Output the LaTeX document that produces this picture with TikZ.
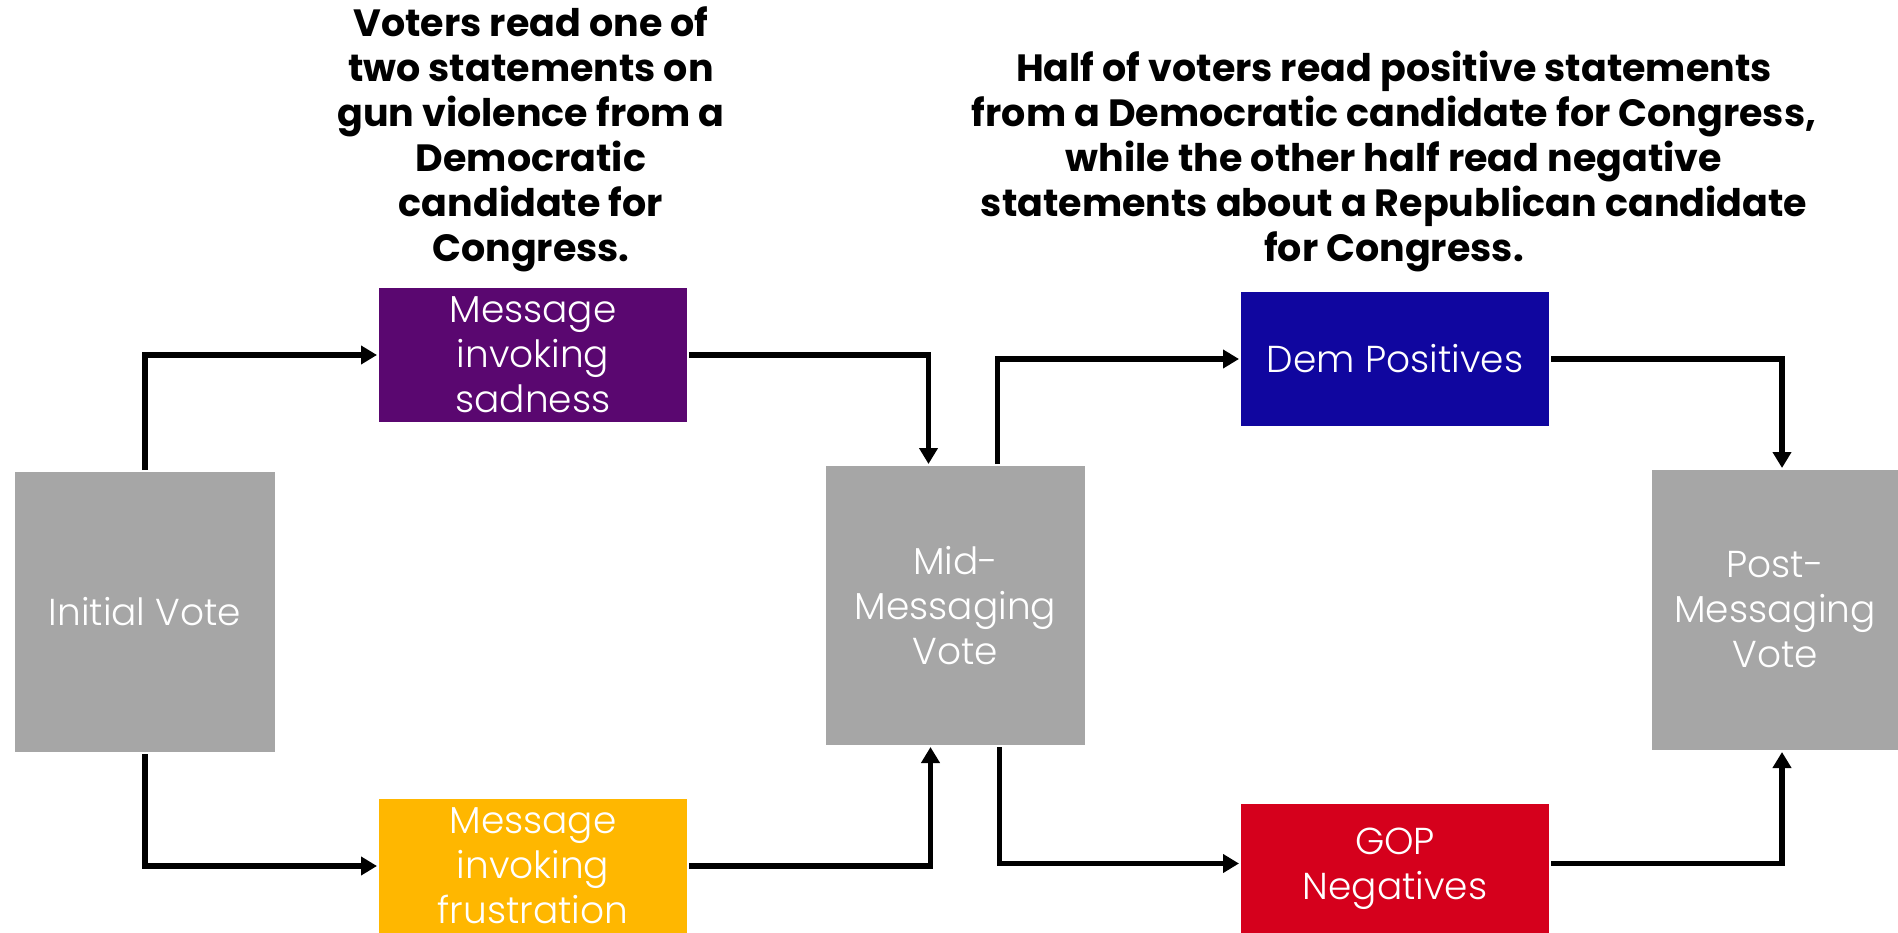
\documentclass[tikz,border=0pt]{standalone}
\usepackage{fontspec}
\setmainfont{Poppins}
\newfontfamily\lightfont{Poppins Light}
\usetikzlibrary{arrows.meta}
\definecolor{boxgray}{RGB}{166,166,166}
\definecolor{sadpurple}{RGB}{90,7,112}
\definecolor{frusyellow}{RGB}{255,183,0}
\definecolor{demblue}{RGB}{16,6,159}
\definecolor{gopred}{RGB}{213,0,28}
\begin{document}
\begin{tikzpicture}[x=1pt,y=-1pt,
  box/.style={rectangle, inner sep=0pt, outer sep=2pt, text=white, align=center,
    font=\lightfont\fontsize{37.5}{45}\selectfont},
  arr/.style={line width=5.5pt, -{Triangle[length=16pt,width=18pt]}, line join=miter},
  ttl/.style={align=center, font=\bfseries\fontsize{38}{45}\selectfont, inner sep=0pt}]
\useasboundingbox (0,0) rectangle (1898,933);
\node[box, fill=boxgray, minimum width=260pt, minimum height=280pt] (init) at (145,612) {Initial Vote};
\node[box, fill=sadpurple, minimum width=308pt, minimum height=134pt] (sad) at (533,355) {Message\\invoking\\sadness};
\node[box, fill=frusyellow, minimum width=308pt, minimum height=134pt] (frus) at (533,866) {Message\\invoking\\frustration};
\node[box, fill=boxgray, minimum width=259pt, minimum height=279pt] (mid) at (955.5,605.5) {Mid-\\Messaging\\Vote};
\node[box, fill=demblue, minimum width=308pt, minimum height=134pt] (dem) at (1395,359) {Dem Positives};
\node[box, fill=gopred, minimum width=308pt, minimum height=129pt] (gop) at (1395,868.5) {GOP\\Negatives};
\node[box, fill=boxgray, minimum width=246pt, minimum height=280pt] (post) at (1775,610) {Post-\\Messaging\\Vote};
\node[ttl, anchor=south] (t1) at (531,272) {Voters read one of\\two statements on\\gun violence from a\\Democratic\\candidate for\\Congress.};
\node[ttl, anchor=south] (t2) at (1394,272) {Half of voters read positive statements\\from a Democratic candidate for Congress,\\while the other half read negative\\statements about a Republican candidate\\for Congress.};
\draw[arr] (init.north) |- (sad.west);
\draw[arr] (init.south) |- (frus.west);
\draw[arr] (sad.east) -| ([xshift=-27pt]mid.north);
\draw[arr] (frus.east) -| ([xshift=-25pt]mid.south);
\draw[arr] ([xshift=42pt]mid.north) |- (dem.west);
\draw[arr] ([xshift=44pt]mid.south) |- ([yshift=5pt]gop.west);
\draw[arr] (dem.east) -| ([xshift=7pt]post.north);
\draw[arr] ([yshift=5pt]gop.east) -| ([xshift=7pt]post.south);
\end{tikzpicture}
\end{document}
